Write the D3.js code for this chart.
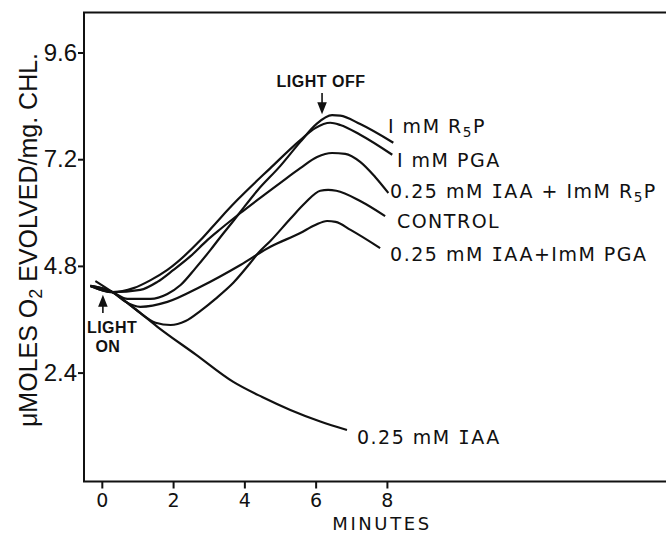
<!DOCTYPE html>
<html>
<head>
<meta charset="utf-8">
<script src="https://cdn.jsdelivr.net/npm/d3@7"></script>
<style>
    body { margin: 0; background: #fff; }
    svg { display: block; }
    .axis-y text { font-family: "Liberation Sans", sans-serif; font-size: 24px; fill: #111; }
    .axis-x text { font-family: "DejaVu Sans", sans-serif; font-size: 19px; fill: #111; }
    .tick line { stroke: #111; stroke-width: 2; }
    .frame { fill: none; stroke: #111; stroke-width: 2; }
    .curve { fill: none; stroke: #111; stroke-width: 2.2; stroke-linejoin: round; }
    .label { font-family: "DejaVu Sans", sans-serif; font-size: 19px; letter-spacing: 1.5px; fill: #111; }
    .note { font-family: "Liberation Sans", sans-serif; font-weight: bold; font-size: 16px; letter-spacing: 0.5px; fill: #111; }
    .y-title { font-family: "Liberation Sans", sans-serif; font-size: 25px; fill: #111; }
    .x-title { font-family: "DejaVu Sans", sans-serif; font-size: 18px; letter-spacing: 2.6px; fill: #111; }
    .arrow { stroke: #111; stroke-width: 1.6; fill: #111; }
</style>
</head>
<body>
<div id="chart"></div>
<script>
    // Values: [minutes, µmoles O2 / mg chl]
const r5p = [[-0.32, 4.35], [0.30, 4.21], [0.72, 4.06], [1.37, 4.06], [1.84, 4.17], [2.21, 4.37], [2.63, 4.75], [3.05, 5.16], [3.33, 5.45], [3.69, 5.81], [3.97, 6.10], [4.36, 6.49], [5.01, 7.05], [5.57, 7.59], [6.02, 7.99], [6.46, 8.19], [6.69, 8.18], [7.25, 7.99], [8.18, 7.57]];
const pga = [[-0.32, 4.35], [0.30, 4.21], [0.89, 4.30], [1.37, 4.48], [1.84, 4.71], [2.77, 5.38], [3.33, 5.88], [3.80, 6.28], [4.73, 7.00], [5.57, 7.63], [5.99, 7.90], [6.41, 8.02], [6.69, 7.97], [7.25, 7.75], [8.15, 7.30]];
const iaaR5p = [[-0.32, 4.35], [0.30, 4.21], [1.08, 4.26], [1.56, 4.44], [2.01, 4.71], [2.49, 5.02], [2.96, 5.38], [3.33, 5.63], [3.89, 5.99], [4.36, 6.28], [5.01, 6.67], [5.57, 7.00], [6.04, 7.25], [6.46, 7.34], [6.83, 7.32], [7.25, 7.14], [7.67, 6.80], [8.04, 6.44]];
const control = [[-0.32, 4.35], [0.30, 4.21], [0.94, 3.83], [1.51, 3.52], [1.93, 3.47], [2.35, 3.56], [2.77, 3.79], [3.19, 4.06], [3.69, 4.42], [4.17, 4.87], [4.39, 5.09], [4.73, 5.36], [5.29, 5.86], [5.71, 6.22], [6.13, 6.49], [6.35, 6.51], [6.58, 6.49], [7.25, 6.26], [7.95, 5.92]];
const iaaPga = [[-0.32, 4.35], [0.30, 4.21], [0.67, 3.99], [1.08, 3.88], [1.84, 3.99], [2.77, 4.33], [3.89, 4.82], [4.73, 5.23], [5.57, 5.54], [5.99, 5.72], [6.32, 5.81], [6.56, 5.79], [6.98, 5.61], [7.81, 5.20]];
const iaa = [[-0.18, 4.46], [0.30, 4.21], [0.94, 3.83], [1.56, 3.43], [2.63, 2.81], [3.69, 2.19], [4.50, 1.85], [5.29, 1.56], [6.13, 1.30], [6.88, 1.11]];

const seriesNames = ["I mM R_5P", "I mM PGA", "0.25 mM IAA + ImM R_5P", "CONTROL", "0.25 mM IAA+ImM PGA", "0.25 mM IAA"];
const seriesValues = [r5p, pga, iaaR5p, control, iaaPga, iaa];

const xTicks = [0, 2, 4, 6, 8];
const yTicks = [2.4, 4.8, 7.2, 9.6];

    // Where each curve's name sits, in data units (left edge, text middle).
const labelSpots = [[8.03, 7.95], [8.28, 7.18], [8.09, 6.48], [8.28, 5.81], [8.09, 5.07], [7.16, 0.95]];

const width = 666;
const height = 538;

const svg = d3.select("#chart")
    .append("svg")
    .attr("width", width)
    .attr("height", height);

    // The frame runs off the right edge, as in the scanned figure.
const x = d3.scaleLinear().domain([-0.5, 16]).range([84, 672]);
const y = d3.scaleLinear().domain([-0.05, 10.5]).range([481.5, 12.5]);

    // Writes a string into a text node, with _n as a subscript and a serif I in IAA.
function rich(text, str, shift) {
    let back = null;
    str.split(/(_\d|IAA)/).filter(Boolean).forEach(p => {
        let span;
        if (p.startsWith("_")) {
            text.append("tspan").attr("dy", shift).attr("font-size", "0.72em").text(p.slice(1));
            back = -shift;
            return;
        }
        if (p === "IAA") {
            span = text.append("tspan").attr("font-family", "DejaVu Sans Mono").text("I");
            if (back !== null) { span.attr("dy", back); back = null; }
            text.append("tspan").text("AA");
            return;
        }
        span = text.append("tspan").text(p);
        if (back !== null) { span.attr("dy", back); back = null; }
    });
}

    // Frame: top, left and bottom edges.
svg.append("path")
    .attr("class", "frame")
    .attr("d", `M${x(16)},${y(10.5)}H${x(-0.5)}V${y(-0.05)}H${x(16)}`);

svg.append("g")
    .attr("class", "axis-y")
    .attr("transform", `translate(${x(-0.5)},0)`)
    .call(d3.axisLeft(y).tickValues(yTicks).tickSize(6).tickPadding(1).tickFormat(d3.format(".1f")))
    .call(g => g.select(".domain").remove());

svg.append("g")
    .attr("class", "axis-x")
    .attr("transform", `translate(0,${y(-0.05)})`)
    .call(d3.axisBottom(x).tickValues(xTicks).tickSize(7).tickPadding(5).tickFormat(d3.format("d")))
    .call(g => g.select(".domain").remove());

const line = d3.line()
    .x(d => x(d[0]))
    .y(d => y(d[1]))
    .curve(d3.curveMonotoneX);

svg.selectAll(".curve")
    .data(seriesValues)
    .join("path")
    .attr("class", "curve")
    .attr("d", d => line(d));

    // Curve names.
seriesNames.forEach((name, i) => {
    const t = svg.append("text")
        .attr("class", "label")
        .attr("transform", `translate(${x(labelSpots[i][0])},${y(labelSpots[i][1])})`)
        .attr("dy", "0.36em");
    rich(t, name, 4);
});

    // Light on / light off marks.
function arrow(t, tail, tip) {
    const cx = x(t), y0 = y(tail), y1 = y(tip);
    const dir = y1 < y0 ? 1 : -1;
    svg.append("line").attr("class", "arrow")
        .attr("x1", cx).attr("x2", cx)
        .attr("y1", y0).attr("y2", y1 + dir * 5);
    svg.append("path").attr("class", "arrow")
        .attr("stroke-width", 0.8)
        .attr("d", `M${cx},${y1}L${cx - 3.6},${y1 + dir * 9}L${cx + 3.6},${y1 + dir * 9}Z`);
}
arrow(0.03, 3.74, 4.10);
arrow(6.18, 8.69, 8.26);

svg.append("text").attr("class", "note")
    .attr("x", x(6.15)).attr("y", y(8.82))
    .attr("text-anchor", "middle")
    .text("LIGHT OFF");
svg.append("text").attr("class", "note")
    .attr("x", x(0.29)).attr("y", y(3.29))
    .attr("text-anchor", "middle")
    .text("LIGHT");
svg.append("text").attr("class", "note")
    .attr("x", x(0.17)).attr("y", y(2.86))
    .attr("text-anchor", "middle")
    .text("ON");

    // Axis titles.
const yTitle = svg.append("text")
    .attr("class", "y-title")
    .attr("transform", "translate(37,240) rotate(-90)")
    .attr("text-anchor", "middle");
rich(yTitle, "\u03bcMOLES O_2 EVOLVED/mg. CHL.", 5);

svg.append("text")
    .attr("class", "x-title")
    .attr("x", 382)
    .attr("y", 530)
    .attr("text-anchor", "middle")
    .text("MINUTES");
</script>
</body>
</html>
